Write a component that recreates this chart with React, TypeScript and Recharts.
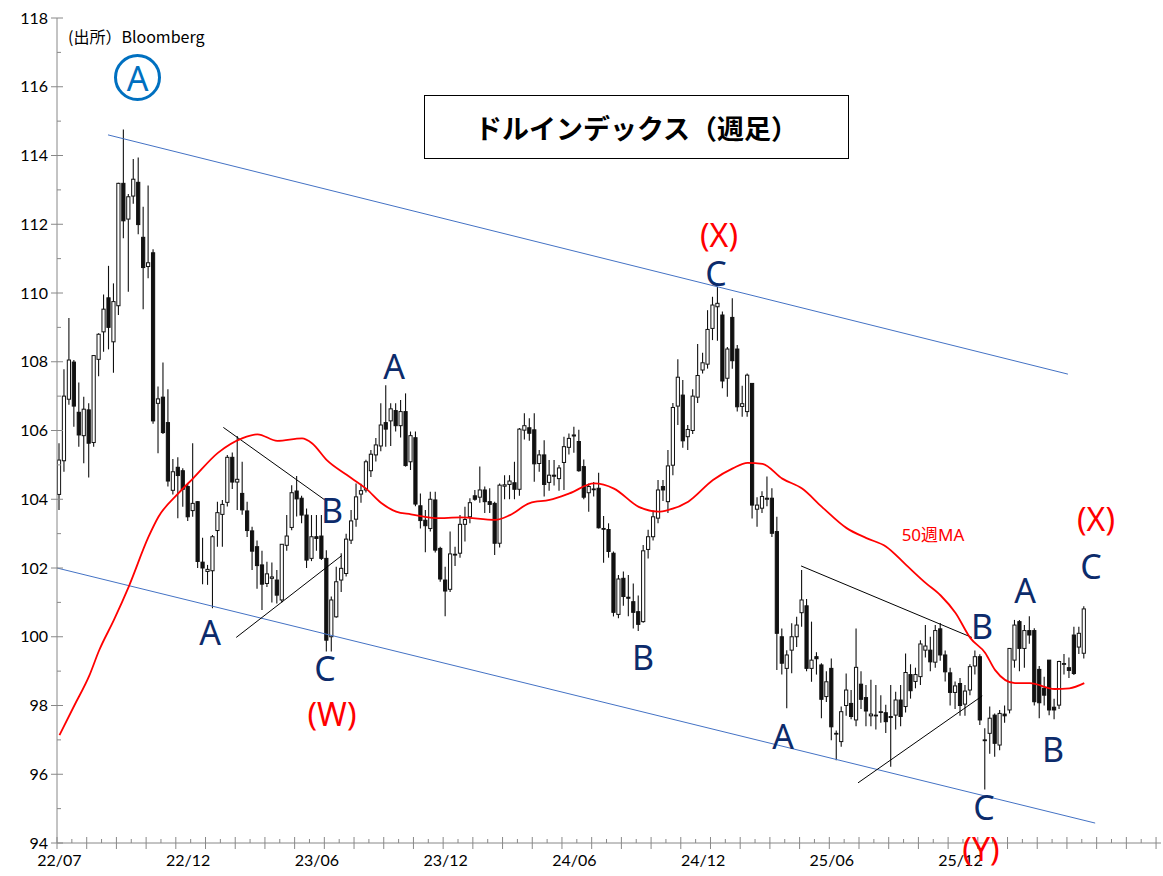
import React from 'react';
import { ComposedChart, Bar, Line, XAxis, YAxis, ReferenceLine } from 'recharts';

// weekly OHLC (index 0 = first week of 22/07)
const opens = [
  104.14, 105.12, 106.91, 107.99, 106.53, 105.85, 106.6, 105.65, 108.07, 108.87,
  109.86, 108.58, 109.63, 113.19, 112.15, 112.82, 113.22, 111.62, 110.77, 111.17,
  106.79, 106.97, 106.23, 104.26, 104.93, 104.83, 104.37, 103.67, 103.93, 102.17,
  101.9, 101.92, 103.09, 103.56, 103.91, 105.22, 104.5, 104.17, 103.66, 103.08,
  102.62, 102.09, 101.55, 101.7, 101.65, 101.07, 102.66, 103.18, 104.24, 104.03,
  103.54, 102.28, 102.91, 102.93, 102.28, 100.0, 100.58, 101.65, 101.84, 102.81,
  103.42, 104.15, 104.27, 104.83, 105.29, 105.55, 106.23, 106.28, 106.58, 106.14,
  106.55, 105.09, 105.79, 103.81, 103.39, 103.15, 103.98, 102.57, 101.65, 101.38,
  102.4, 102.43, 103.27, 103.49, 104.1, 104.06, 104.27, 103.93, 103.88, 102.72,
  104.38, 104.43, 104.48, 104.29, 106.01, 106.08, 106.02, 105.04, 105.29, 104.49,
  104.7, 104.6, 105.07, 105.51, 105.84, 105.68, 104.95, 104.19, 104.3, 104.32,
  103.15, 103.12, 102.43, 100.65, 101.7, 101.15, 101.02, 100.73, 100.44, 102.54,
  102.91, 103.45, 104.37, 103.93, 104.99, 106.71, 107.03, 105.82, 106.0, 106.97,
  107.76, 107.93, 108.97, 109.6, 109.36, 107.52, 109.29, 108.37, 106.7, 106.55,
  107.37, 103.71, 103.74, 104.0, 104.03, 103.06, 100.0, 99.08, 99.61, 100.0,
  100.7, 100.9, 99.08, 99.42, 99.18, 98.26, 99.08, 97.17, 96.95, 98.0,
  98.06, 97.58, 98.62, 98.23, 97.7, 97.7, 97.8, 97.79, 97.65, 97.72,
  98.16, 97.97, 98.9, 98.7, 98.84, 99.61, 99.61, 99.26, 100.23, 99.47,
  98.95, 98.38, 98.64, 98.04, 98.45, 99.15, 99.42, 97.0, 97.19, 97.72,
  96.85, 97.75, 97.87, 99.32, 100.44, 99.66, 100.18, 100.18, 99.05, 98.5,
  99.32, 97.95, 98.01, 99.2, 99.1, 100.05, 99.7, 99.52,
];

const highs = [
  105.63, 107.78, 109.27, 108.05, 107.4, 106.98, 106.79, 108.2, 108.83, 109.96,
  110.79, 110.28, 113.21, 114.76, 112.88, 113.9, 113.94, 112.51, 113.13, 111.27,
  107.28, 107.98, 107.2, 105.17, 105.22, 104.9, 104.46, 105.63, 103.95, 102.88,
  102.09, 102.96, 103.93, 103.98, 105.29, 105.36, 105.84, 105.09, 103.93, 103.2,
  102.8, 102.5, 102.18, 102.16, 101.94, 102.69, 103.54, 104.41, 104.68, 104.1,
  103.73, 103.54, 103.54, 103.54, 102.52, 101.17, 102.04, 102.43, 103.0, 103.69,
  104.46, 104.45, 105.15, 105.43, 105.78, 106.79, 107.32, 106.79, 106.79, 106.89,
  107.08, 105.97, 105.97, 104.17, 103.69, 104.22, 104.22, 102.62, 102.04, 103.06,
  102.62, 103.54, 103.78, 104.03, 104.27, 104.95, 104.37, 104.32, 103.93, 104.46,
  104.7, 104.7, 105.09, 106.07, 106.5, 106.36, 106.5, 105.43, 105.72, 105.14,
  105.14, 105.0, 105.82, 105.91, 106.11, 106.02, 105.16, 104.46, 104.5, 104.77,
  103.51, 103.3, 102.48, 101.8, 101.9, 101.8, 101.55, 101.2, 102.67, 103.11,
  103.67, 104.56, 104.56, 105.43, 106.8, 108.07, 107.47, 106.16, 107.2, 108.52,
  108.26, 109.5, 109.89, 110.18, 109.46, 108.43, 109.85, 108.49, 107.3, 107.66,
  107.37, 104.06, 104.23, 104.66, 104.32, 103.49, 100.24, 99.61, 100.39, 100.58,
  101.94, 101.1, 100.44, 99.55, 99.23, 99.0, 99.37, 97.27, 97.97, 98.93,
  98.45, 100.24, 99.0, 98.6, 98.75, 98.6, 98.3, 98.02, 98.6, 98.4,
  98.6, 99.51, 99.2, 99.1, 99.9, 100.34, 100.0, 100.34, 100.4, 99.6,
  99.1, 98.7, 98.8, 98.6, 99.2, 99.6, 99.49, 97.34, 97.97, 97.77,
  97.87, 98.0, 99.66, 100.49, 100.49, 100.34, 100.6, 100.25, 99.15, 98.84,
  99.32, 98.2, 99.3, 99.5, 99.4, 100.29, 100.29, 100.89,
];

const lows = [
  103.69, 104.8, 106.75, 106.11, 105.53, 105.05, 104.63, 105.53, 107.58, 108.29,
  108.36, 107.68, 109.36, 111.59, 110.04, 112.6, 111.71, 109.53, 110.43, 106.2,
  105.34, 105.9, 104.37, 104.14, 103.45, 103.78, 103.37, 103.49, 102.0, 101.53,
  101.51, 100.83, 102.62, 102.62, 103.79, 104.3, 103.69, 103.55, 102.9, 101.94,
  101.4, 100.78, 101.45, 101.0, 100.97, 101.0, 102.5, 103.1, 103.5, 103.3,
  102.0, 102.2, 102.5, 102.23, 99.57, 99.57, 100.55, 101.3, 101.75, 102.7,
  103.2, 103.9, 104.2, 104.65, 105.1, 105.4, 105.53, 105.55, 105.97, 105.8,
  104.95, 104.85, 103.8, 103.15, 102.46, 103.06, 102.45, 101.6, 100.6, 101.3,
  102.06, 102.3, 102.77, 103.3, 103.96, 103.9, 103.6, 103.6, 102.38, 102.6,
  104.0, 104.0, 104.0, 104.1, 105.74, 105.7, 104.51, 104.8, 104.08, 104.25,
  104.4, 104.25, 104.27, 105.3, 105.35, 104.8, 104.0, 103.64, 104.08, 103.15,
  102.15, 102.3, 100.59, 100.54, 100.9, 100.6, 100.24, 100.17, 100.41, 102.28,
  102.8, 103.3, 103.95, 103.6, 104.7, 106.16, 105.5, 105.43, 105.9, 106.8,
  107.66, 107.8, 108.63, 108.61, 107.23, 106.98, 107.8, 106.55, 106.4, 106.4,
  103.44, 103.2, 103.6, 103.8, 102.9, 99.03, 98.9, 97.92, 98.94, 99.7,
  100.29, 99.0, 98.69, 98.9, 97.63, 98.1, 96.99, 96.41, 96.8, 97.7,
  97.6, 97.4, 97.9, 97.4, 97.4, 97.3, 97.5, 97.2, 96.22, 97.3,
  97.4, 97.8, 98.2, 98.5, 98.6, 99.4, 99.0, 99.1, 99.3, 98.7,
  98.0, 97.9, 97.7, 97.7, 98.3, 98.9, 97.43, 95.56, 96.6, 96.51,
  96.7, 97.5, 97.77, 99.1, 99.0, 99.1, 99.8, 98.0, 97.63, 98.0,
  97.72, 97.6, 97.9, 98.9, 98.8, 98.89, 99.5, 99.37,
];

const closes = [
  105.14, 107.0, 108.05, 106.71, 105.87, 106.62, 105.63, 108.18, 108.8, 109.53,
  109.0, 109.75, 113.19, 112.1, 112.8, 113.31, 111.99, 110.74, 110.88, 106.28,
  106.92, 105.94, 104.53, 104.8, 104.69, 104.29, 103.49, 103.88, 102.19, 102.0,
  101.96, 102.91, 103.61, 103.85, 105.22, 104.5, 104.58, 103.69, 103.09, 102.49,
  102.07, 101.53, 101.83, 101.74, 101.21, 102.69, 102.93, 104.19, 104.01, 103.54,
  102.23, 102.91, 102.86, 102.28, 99.9, 101.07, 101.6, 101.99, 102.84, 103.37,
  104.07, 104.25, 105.09, 105.31, 105.58, 106.16, 106.04, 106.63, 106.14, 106.55,
  104.98, 105.85, 103.86, 103.38, 103.23, 104.0, 102.52, 101.68, 101.33, 102.41,
  102.38, 103.27, 103.41, 103.9, 104.0, 104.27, 103.93, 103.85, 102.72, 104.41,
  104.42, 104.53, 104.29, 106.04, 106.14, 105.92, 105.03, 105.29, 104.43, 104.7,
  104.67, 104.91, 105.53, 105.77, 105.87, 104.83, 104.06, 104.37, 104.3, 103.17,
  103.14, 102.48, 100.71, 101.68, 101.17, 101.12, 100.71, 100.36, 102.5, 102.91,
  103.49, 104.27, 104.27, 104.97, 106.67, 107.55, 105.7, 106.03, 107.0, 107.6,
  107.97, 108.94, 109.65, 109.7, 107.44, 108.37, 108.03, 106.69, 106.78, 107.61,
  103.83, 103.83, 104.08, 104.03, 103.01, 100.1, 99.23, 99.47, 100.0, 100.34,
  101.07, 99.08, 99.32, 99.36, 98.18, 98.69, 97.38, 97.19, 97.82, 98.45,
  97.68, 99.11, 98.18, 97.84, 97.75, 97.72, 97.82, 97.53, 97.68, 98.16,
  97.68, 98.96, 98.43, 98.9, 99.79, 99.73, 99.27, 100.18, 99.47, 98.98,
  98.38, 98.57, 98.0, 98.42, 99.13, 99.42, 97.58, 96.98, 97.63, 96.9,
  97.77, 97.7, 99.66, 100.34, 99.66, 100.18, 100.05, 98.11, 98.08, 98.3,
  97.87, 97.87, 99.28, 99.22, 99.02, 98.93, 100.1, 100.81,
];

// 50-week moving average, read at selected weeks
const maWeeks = [
  0, 3, 6, 8, 11, 14, 18, 20, 24, 27, 32, 37, 40, 44, 49, 51, 54, 58, 62, 65,
  68, 71, 76, 81, 88, 91, 95, 99, 103, 108, 112, 117, 121, 123, 127, 132, 136, 139, 142, 146,
  150, 154, 159, 163, 167, 171, 175, 178, 181, 184, 187, 189, 193, 196, 201, 204, 207,
];
const maValues = [
  97.14, 98.0, 98.86, 99.6, 100.49, 101.46, 102.91, 103.49, 104.17, 104.61, 105.35, 105.78, 105.89, 105.7, 105.77, 105.63, 105.14, 104.71, 104.3, 103.89,
  103.64, 103.56, 103.45, 103.47, 103.4, 103.54, 103.89, 103.98, 104.17, 104.46, 104.31, 103.78, 103.64, 103.69, 103.93, 104.56, 104.9, 105.06, 105.03, 104.6,
  104.31, 103.78, 103.16, 102.87, 102.62, 102.09, 101.56, 101.2, 100.69, 99.96, 99.53, 99.03, 98.65, 98.65, 98.48, 98.5, 98.65,
];

const xLabels = ['22/07', '22/12', '23/06', '23/12', '24/06', '24/12', '25/06', '25/12'];
const labelStep = 26;
const yTicks = Array.from({ length: 25 }, (_, k) => 94 + k);

const data = opens.map((o, i) => ({
  i,
  o,
  h: highs[i],
  l: lows[i],
  c: closes[i],
  range: [lows[i], highs[i]],
  ma: undefined as number | undefined,
}));
maWeeks.forEach((w, k) => {
  data[w].ma = maValues[k];
});

const markTicks = Array.from({ length: 75 }, (_, k) => -0.5 + 3 * k);
const labelTicks = xLabels.map((_, k) => k * labelStep);

const Candle = (props: any) => {
  const { x, y, width, height, payload } = props;
  if (!payload || payload.o == null) return null;
  const { o, h, l, c } = payload;
  const top = Math.min(y, y + height);
  const hh = Math.abs(height);
  const k = h - l > 0 ? hh / (h - l) : 0;
  const py = (v: number) => top + (h - v) * k;
  const cx = x + width / 2;
  const up = c >= o;
  const bTop = py(Math.max(o, c));
  const bBot = py(Math.min(o, c));
  return (
    <g>
      <line x1={cx} x2={cx} y1={top} y2={top + hh} stroke="#111" strokeWidth={1.1} />
      <rect
        x={cx - 1.6}
        y={bTop}
        width={3.2}
        height={Math.max(bBot - bTop, 0.8)}
        fill={up ? '#fff' : '#111'}
        stroke="#111"
        strokeWidth={1}
      />
    </g>
  );
};

const XTick = (props: any) => {
  const { x, y, payload } = props;
  const v = payload.value;
  if (Number.isInteger(v)) {
    return (
      <text x={x} y={y + 23} textAnchor="middle" fontSize={16} fontFamily="Lato" fill="#000">
        {xLabels[v / labelStep]}
      </text>
    );
  }
  // major marks every 6 weeks cross the axis, minor ones sit above it
  const major = Math.round((v + 0.5) / 3) % 2 === 0;
  return <line x1={x} x2={x} y1={major ? y - 6 : y - 4} y2={major ? y + 6 : y} stroke="#888" strokeWidth={1} />;
};

const YTick = (props: any) => {
  const { x, y, payload } = props;
  const v = payload.value;
  const major = v % 2 === 0;
  return (
    <g>
      <line x1={major ? x - 6 : x} x2={major ? x + 6 : x + 4} y1={y} y2={y} stroke="#888" strokeWidth={1} />
      {major && (
        <text x={x - 9} y={y} dy="0.35em" textAnchor="end" fontSize={16} fontFamily="Lato" fill="#000">
          {v}
        </text>
      )}
    </g>
  );
};

const Tag = ({ x, y, text, color = '#0C2B6B', size = 34 }: { x: number; y: number; text: string; color?: string; size?: number }) => (
  <div
    style={{
      position: 'absolute',
      left: x,
      top: y,
      transform: 'translate(-50%, -50%)',
      color,
      fontSize: size,
      lineHeight: 0.9,
      fontFamily: '"Noto Sans", "Noto Sans CJK JP", sans-serif',
      whiteSpace: 'nowrap',
    }}
  >
    {text}
  </div>
);

export default function App() {
  return (
    <div style={{ position: 'absolute', left: 0, top: 0, width: 1163, height: 876, background: '#fff' }}>
      <ComposedChart width={1163} height={876} data={data} margin={{ top: 18, right: 2, bottom: 0, left: 0 }}>
        <XAxis
          type="number"
          dataKey="i"
          domain={[-0.5, 222.5]}
          allowDataOverflow
          ticks={[...markTicks, ...labelTicks]}
          interval={0}
          tickSize={0}
          tickMargin={0}
          tickLine={false}
          tick={<XTick />}
          axisLine={{ stroke: '#888' }}
          height={33}
        />
        <YAxis
          type="number"
          domain={[94, 118]}
          ticks={yTicks}
          interval={0}
          tickSize={0}
          tickMargin={0}
          tickLine={false}
          tick={<YTick />}
          axisLine={{ stroke: '#888' }}
          width={57}
        />
        <ReferenceLine segment={[{ x: 9.8, y: 114.6 }, { x: 203.7, y: 107.64 }]} stroke="#4472C4" strokeWidth={1} ifOverflow="visible" />
        <ReferenceLine segment={[{ x: -0.5, y: 102.0 }, { x: 209.2, y: 94.58 }]} stroke="#4472C4" strokeWidth={1} ifOverflow="visible" />
        <ReferenceLine segment={[{ x: 33.1, y: 106.09 }, { x: 53.6, y: 103.98 }]} stroke="#000" strokeWidth={1} ifOverflow="visible" />
        <ReferenceLine segment={[{ x: 35.7, y: 99.98 }, { x: 57.0, y: 102.36 }]} stroke="#000" strokeWidth={1} ifOverflow="visible" />
        <ReferenceLine segment={[{ x: 149.8, y: 102.06 }, { x: 184.3, y: 99.98 }]} stroke="#000" strokeWidth={1} ifOverflow="visible" />
        <ReferenceLine segment={[{ x: 161.3, y: 95.75 }, { x: 186.4, y: 98.28 }]} stroke="#000" strokeWidth={1} ifOverflow="visible" />
        <Bar dataKey="range" barSize={4} shape={<Candle />} isAnimationActive={false} />
        <Line
          dataKey="ma"
          type="monotone"
          stroke="#FF0000"
          strokeWidth={1.8}
          dot={false}
          connectNulls
          isAnimationActive={false}
        />
      </ComposedChart>

      <div
        style={{
          position: 'absolute',
          left: 68,
          top: 24,
          fontSize: 16,
          fontFamily: '"Noto Sans CJK JP", "Noto Sans", sans-serif',
          color: '#000',
          whiteSpace: 'nowrap',
        }}
      >
        (出所）Bloomberg
      </div>

      <div
        style={{
          position: 'absolute',
          left: 114,
          top: 54,
          width: 41,
          height: 41,
          border: '3px solid #0070C0',
          borderRadius: '50%',
          display: 'flex',
          alignItems: 'center',
          justifyContent: 'center',
          color: '#0070C0',
          fontSize: 34,
          fontFamily: '"Noto Sans", sans-serif',
          lineHeight: 1,
        }}
      >
        A
      </div>

      <div
        style={{
          position: 'absolute',
          left: 424,
          top: 95,
          width: 423,
          height: 62,
          border: '1px solid #000',
          background: '#fff',
          display: 'flex',
          alignItems: 'center',
          justifyContent: 'center',
          fontSize: 27,
          fontWeight: 700,
          fontFamily: '"Noto Sans CJK JP", sans-serif',
          color: '#000',
        }}
      >
        ドルインデックス（週足）
      </div>

      <Tag x={210} y={632} text="A" />
      <Tag x={325} y={668} text="C" />
      <Tag x={332} y={714} text="(W)" color="#FF0000" size={32} />
      <Tag x={332} y={510} text="B" />
      <Tag x={394} y={366} text="A" />
      <Tag x={643} y={657} text="B" />
      <Tag x={719} y={235} text="(X)" color="#FF0000" size={32} />
      <Tag x={716} y={273} text="C" />
      <Tag x={783} y={736} text="A" />
      <Tag x={933} y={535} text="50週MA" color="#FF0000" size={17} />
      <Tag x={982} y={626} text="B" />
      <Tag x={984} y={807} text="C" />
      <Tag x={981} y={849} text="(Y)" color="#FF0000" size={32} />
      <Tag x={1025} y={590} text="A" />
      <Tag x={1096} y={519} text="(X)" color="#FF0000" size={32} />
      <Tag x={1091} y={566} text="C" />
      <Tag x={1053} y={749} text="B" />
    </div>
  );
}
